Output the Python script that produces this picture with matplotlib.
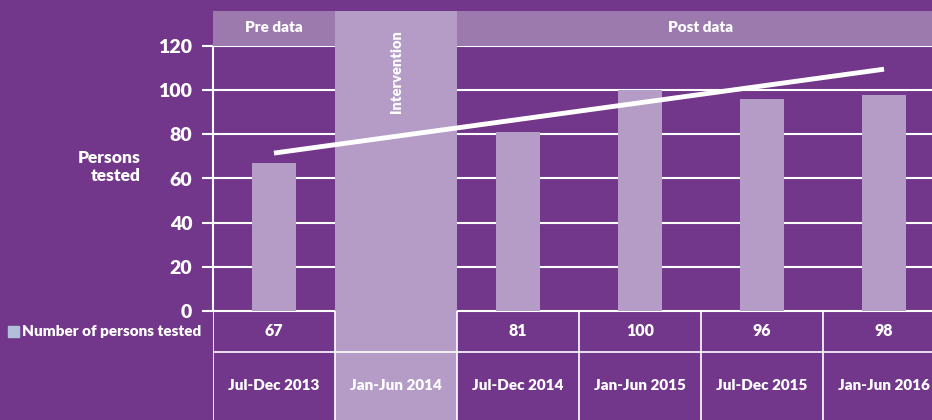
import matplotlib
matplotlib.use("Agg")
import matplotlib.pyplot as plt
from matplotlib.patches import Rectangle

periods = ["Jul-Dec 2013", "Jan-Jun 2014", "Jul-Dec 2014", "Jan-Jun 2015", "Jul-Dec 2015", "Jan-Jun 2016"]
tested = [67, None, 81, 100, 96, 98]
trend_start = 71.5
trend_end = 109.5
y_ticks = [0, 20, 40, 60, 80, 100, 120]
intervention_idx = 1

BG = "#72368A"
HEAD = "#9C7AAE"
BAR = "#B49CC6"
LEG = "#AFC0D8"
W = "white"

plt.rcParams["font.family"] = ["Lato", "DejaVu Sans"]
WT = "heavy"

fig = plt.figure(figsize=(9.32, 4.2), dpi=100, facecolor=BG)
FW, FH = 932, 420

def fx(px):
    return px / FW

def fy(py):
    return 1 - py / FH

x0 = 213
colw = 122.0
xmin = -0.5
xmax = xmin + (FW - x0) / colw
y0px, y120px = 311, 46
ppu = (y0px - y120px) / 120.0
ytop = (y0px - 11) / ppu

ax = fig.add_axes([fx(x0), fy(y0px), fx(FW - x0), (y0px - 11) / FH])
ax.set_facecolor(BG)
ax.set_xlim(xmin, xmax)
ax.set_ylim(0, ytop)
for s in ax.spines.values():
    s.set_visible(False)
ax.set_xticks([])
ax.set_yticks(y_ticks)
ax.tick_params(axis="y", colors=W, length=8, width=1.5, pad=7)
for lab in ax.get_yticklabels():
    lab.set_fontsize(14)
    lab.set_fontweight(WT)
    lab.set_color(W)

# gridlines
for t in y_ticks:
    ax.axhline(t, color=W, lw=1.5, zorder=1)
ax.plot([xmin, xmin], [0, 120], color=W, lw=1.5, zorder=1, clip_on=False)

# header bands
ax.add_patch(Rectangle((xmin, 120), 1.0, ytop - 120, color=HEAD, zorder=2, lw=0))
ax.add_patch(Rectangle((1.5, 120), xmax - 1.5 + 1, ytop - 120, color=HEAD, zorder=2, lw=0))
ax.text(0, (120 + ytop) / 2 + 0.5, "Pre data", color=W, fontsize=11, fontweight=WT,
        ha="center", va="center", zorder=5)
ax.text(3.5, (120 + ytop) / 2 + 0.5, "Post data", color=W, fontsize=11, fontweight=WT,
        ha="center", va="center", zorder=5)

# bars
xs = [i for i, v in enumerate(tested) if v is not None]
vs = [v for v in tested if v is not None]
ax.bar(xs, vs, width=0.36, color=BAR, zorder=3)

# intervention column
ax.add_patch(Rectangle((intervention_idx - 0.5, 0), 1.0, ytop, color=BAR, zorder=4, lw=0))
ax.text(intervention_idx, ytop - 8.6, "Intervention", rotation=90, color=W, fontsize=10.5,
        fontweight=WT, ha="center", va="top", zorder=5)

# trend line
ax.plot([0, 5], [trend_start, trend_end], color=W, lw=3.5, zorder=6, solid_capstyle="butt")

# y label
fig.text(fx(141), fy(167), "Persons\ntested", color=W, fontsize=12.5, fontweight=WT,
         ha="right", va="center", linespacing=1.15)

# table
tax = fig.add_axes([fx(x0), 0, fx(FW - x0), (FH - y0px) / FH])
tax.set_facecolor(BG)
tax.set_xlim(xmin, xmax)
tax.set_ylim(0, 1)
tax.axis("off")
rowb = (FH - 352) / (FH - y0px)
tax.axhline(1, color=W, lw=1.5, zorder=1)
tax.axhline(rowb, color=W, lw=1.2, zorder=5)
for i in range(7):
    tax.axvline(i - 0.5, color=W, lw=1.2, zorder=5)
tax.add_patch(Rectangle((intervention_idx - 0.5, 0), 1.0, 1.0, color=BAR, zorder=4, lw=0))
for i, (p, v) in enumerate(zip(periods, tested)):
    if v is not None:
        tax.text(i, (1 + rowb) / 2, str(v), color=W, fontsize=11.5, fontweight=WT,
                 ha="center", va="center", zorder=6)
    tax.text(i, rowb / 2, p, color=W, fontsize=11, fontweight=WT,
             ha="center", va="center", zorder=6)

# legend
fig.patches.append(Rectangle((fx(8), fy(337)), fx(11), 11 / FH, color=LEG,
                             transform=fig.transFigure, figure=fig))
fig.text(fx(22), fy(331), "Number of persons tested", color=W, fontsize=11,
         fontweight=WT, ha="left", va="center")

fig.savefig("out.png", dpi=100, facecolor=BG)
